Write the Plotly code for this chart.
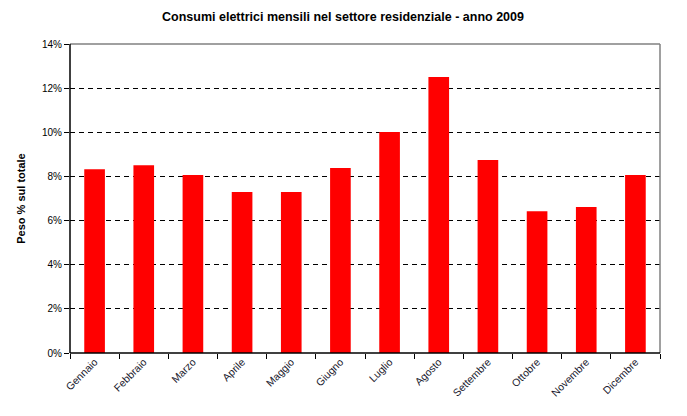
import plotly.graph_objects as go

mesi = ["Gennaio", "Febbraio", "Marzo", "Aprile", "Maggio", "Giugno",
        "Luglio", "Agosto", "Settembre", "Ottobre", "Novembre", "Dicembre"]
peso = [8.33, 8.51, 8.06, 7.29, 7.29, 8.38, 10.01, 12.51, 8.74, 6.42, 6.61, 8.06]
peso_frac = [v / 100 for v in peso]

W, H = 679, 408  # page body adds an 8px offset in the viewer

fig = go.Figure()
fig.add_trace(go.Bar(x=mesi, y=peso_frac, marker=dict(color="#ff0000", line=dict(width=0)),
                     hoverinfo="x+y"))

fig.update_layout(
    width=W, height=H,
    margin=dict(l=56, r=27, t=36, b=63),
    paper_bgcolor="white", plot_bgcolor="white",
    bargap=0.58,
    showlegend=False,
    font=dict(family="Liberation Sans, Arial, sans-serif", color="#000000"),
    title=dict(text="<b>Consumi elettrici mensili nel settore residenziale - anno 2009</b>",
               x=(343 - 8) / W, xanchor="center", y=1 - 9 / H, yanchor="middle",
               font=dict(size=12.5, color="#000000")),
    xaxis=dict(showgrid=False, showline=False, zeroline=False,
               ticks="outside", tickson="boundaries", ticklen=5, tickcolor="black",
               tickangle=-45, tickfont=dict(size=10.5, color="#1a1a2e")),
    yaxis=dict(range=[0, 0.14], dtick=0.02, tickformat=".0%",
               showgrid=True, gridcolor="black", griddash="5px,4px", gridwidth=1,
               zeroline=False, showline=False,
               ticks="outside", ticklen=5, tickcolor="black",
               tickfont=dict(size=10, color="#000000"),
               title=dict(text="<b>Peso % sul totale</b>", font=dict(size=11), standoff=14)),
    shapes=[
        dict(type="line", xref="paper", yref="paper", x0=0, x1=1, y0=1, y1=1,
             line=dict(color="#808080", width=1.5), layer="above"),
        dict(type="line", xref="paper", yref="paper", x0=1, x1=1, y0=0, y1=1,
             line=dict(color="#808080", width=1.5), layer="above"),
        dict(type="line", xref="paper", yref="paper", x0=0, x1=0, y0=0, y1=1,
             line=dict(color="black", width=1.5), layer="above"),
        dict(type="line", xref="paper", yref="paper", x0=0, x1=1, y0=0, y1=0,
             line=dict(color="black", width=1.5), layer="above"),
    ],
)

fig.write_html("out.html")
